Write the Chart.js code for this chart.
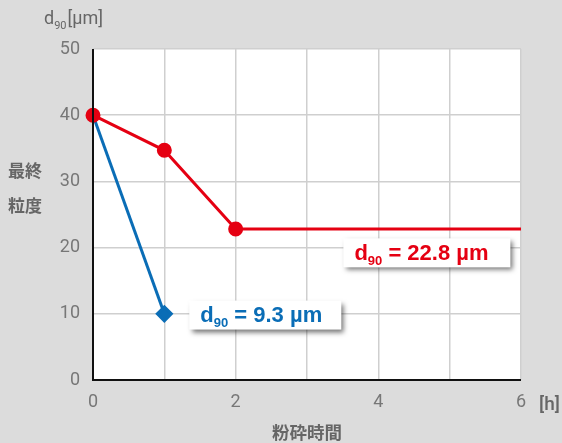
<!DOCTYPE html>
<html>
<head>
<meta charset="utf-8">
<script src="https://cdn.jsdelivr.net/npm/chart.js@4.4.1/dist/chart.umd.min.js"></script>
<style>
  html, body { margin: 0; padding: 0; background: #dcdcdc; }
  #wrap { width: 562px; height: 443px; }
</style>
</head>
<body>
<div id="wrap"><canvas id="chart" width="562" height="443"></canvas></div>
<script>
// grinding time [h] and final d90 [um]
const redHours = [0, 1, 2, 6];
const redValues = [40, 34.7, 22.8, 22.8];
const blueHours = [0, 1];
const blueValues = [40, 10];
const xTicks = [0, 2, 4, 6];
const yTicks = [0, 10, 20, 30, 40, 50];

const RED = "#e50012";
const BLUE = "#0a6db6";
const GREY_TEXT = "#666666";

function toPoints(xs, ys) {
  return xs.map((x, i) => ({ x: x, y: ys[i] }));
}

// labels, axis titles and the two result boxes
const extrasPlugin = {
  id: "extras",
  afterDatasetsDraw(chart) {
    const ctx = chart.ctx;
    const xs = chart.scales.x;
    const ys = chart.scales.y;
    ctx.save();

    // axis lines (left and bottom)
    ctx.strokeStyle = "#111";
    ctx.lineWidth = 2;
    ctx.beginPath();
    ctx.moveTo(chart.chartArea.left, chart.chartArea.top);
    ctx.lineTo(chart.chartArea.left, chart.chartArea.bottom);
    ctx.lineTo(chart.chartArea.right, chart.chartArea.bottom);
    ctx.stroke();

    ctx.fillStyle = GREY_TEXT;
    ctx.textBaseline = "alphabetic";

    // d90[um] unit title
    ctx.font = "18px Roboto, 'Noto Sans', sans-serif";
    ctx.textAlign = "left";
    ctx.fillText("d", 44, 24);
    let w = ctx.measureText("d").width;
    ctx.font = "11px Roboto, 'Noto Sans', sans-serif";
    ctx.fillText("90", 44 + w, 29);
    let w2 = ctx.measureText("90").width;
    ctx.font = "18px Roboto, 'Noto Sans', sans-serif";
    ctx.fillText("[\u00b5m]", 44 + w + w2 + 1, 24);

    // y title
    ctx.font = "bold 17px 'Noto Sans CJK JP', sans-serif";
    ctx.fillText("\u6700\u7d42", 8, 177);
    ctx.fillText("\u7c92\u5ea6", 8, 212);

    // x unit and title
    ctx.font = "500 19px Roboto, 'Noto Sans', sans-serif";
    ctx.fillText("[h]", 539, 410);
    ctx.textAlign = "center";
    ctx.font = "bold 17.5px 'Noto Sans CJK JP', sans-serif";
    ctx.fillText("\u7c89\u7815\u6642\u9593", 307, 439);

    // result boxes
    function box(xv, yv, bw, bh, value, color) {
      const bx = xs.getPixelForValue(xv);
      const by = ys.getPixelForValue(yv);
      ctx.save();
      ctx.shadowColor = "rgba(0,0,0,0.55)";
      ctx.shadowBlur = 5;
      ctx.shadowOffsetX = 3;
      ctx.shadowOffsetY = 3;
      ctx.fillStyle = "#fff";
      ctx.fillRect(bx, by, bw, bh);
      ctx.restore();
      ctx.fillStyle = color;
      ctx.textAlign = "left";
      let tx = bx + 11;
      const ty = by + bh / 2 + 7;
      ctx.font = "bold 22px 'Liberation Sans', Arial, sans-serif";
      ctx.fillText("d", tx, ty);
      tx += ctx.measureText("d").width;
      ctx.font = "bold 13px 'Liberation Sans', Arial, sans-serif";
      ctx.fillText("90", tx, ty + 5);
      tx += ctx.measureText("90").width;
      ctx.font = "bold 22px 'Liberation Sans', Arial, sans-serif";
      ctx.fillText(" = " + value + " \u00b5m", tx, ty);
    }
    box(3.51, 21.4, 167, 29, "22.8", RED);
    box(1.35, 12.0, 152, 29, "9.3", BLUE);

    ctx.restore();
  }
};

const bgPlugin = {
  id: "plotbg",
  beforeDraw(chart) {
    const ctx = chart.ctx;
    const a = chart.chartArea;
    ctx.save();
    ctx.fillStyle = "#dcdcdc";
    ctx.fillRect(0, 0, chart.width, chart.height);
    ctx.fillStyle = "#ffffff";
    ctx.fillRect(a.left, a.top, a.right - a.left, a.bottom - a.top);
    ctx.restore();
  }
};

new Chart(document.getElementById("chart"), {
  type: "line",
  data: {
    datasets: [
      {
        label: "red",
        data: toPoints(redHours, redValues),
        borderColor: RED,
        backgroundColor: RED,
        borderWidth: 3,
        pointRadius: [6, 6, 6, 0],
        pointHoverRadius: 0,
        pointStyle: "circle",
        clip: false,
        tension: 0
      },
      {
        label: "blue",
        data: toPoints(blueHours, blueValues),
        borderColor: BLUE,
        backgroundColor: BLUE,
        borderWidth: 3,
        pointRadius: [0, 7],
        pointStyle: "rectRot",
        clip: false,
        tension: 0
      }
    ]
  },
  options: {
    responsive: false,
    animation: false,
    layout: { padding: { left: 0, right: 41, top: 49, bottom: 0 } },
    plugins: {
      legend: { display: false },
      tooltip: { enabled: false }
    },
    scales: {
      x: {
        type: "linear",
        min: 0,
        max: 6,
        afterFit: function (scale) { scale.height = 63; },
        afterBuildTicks: function (scale) {
          scale.ticks = [0, 1, 2, 3, 4, 5, 6].map(v => ({ value: v }));
        },
        grid: { color: "#cfcfcf", lineWidth: 1.5, drawTicks: false },
        border: { display: false },
        ticks: {
          padding: 12,
          color: "#777",
          font: { size: 18, family: "Roboto, 'Noto Sans', sans-serif" },
          callback: v => (xTicks.includes(v) ? String(v) : "")
        }
      },
      y: {
        min: 0,
        max: 50,
        afterFit: function (scale) { scale.width = 93; },
        afterBuildTicks: function (scale) {
          scale.ticks = yTicks.map(v => ({ value: v }));
        },
        grid: { color: "#cfcfcf", lineWidth: 1.5, drawTicks: false },
        border: { display: false },
        ticks: {
          padding: 13,
          color: "#777",
          font: { size: 18, family: "Roboto, 'Noto Sans', sans-serif" }
        }
      }
    }
  },
  plugins: [bgPlugin, extrasPlugin]
});
</script>
</body>
</html>
